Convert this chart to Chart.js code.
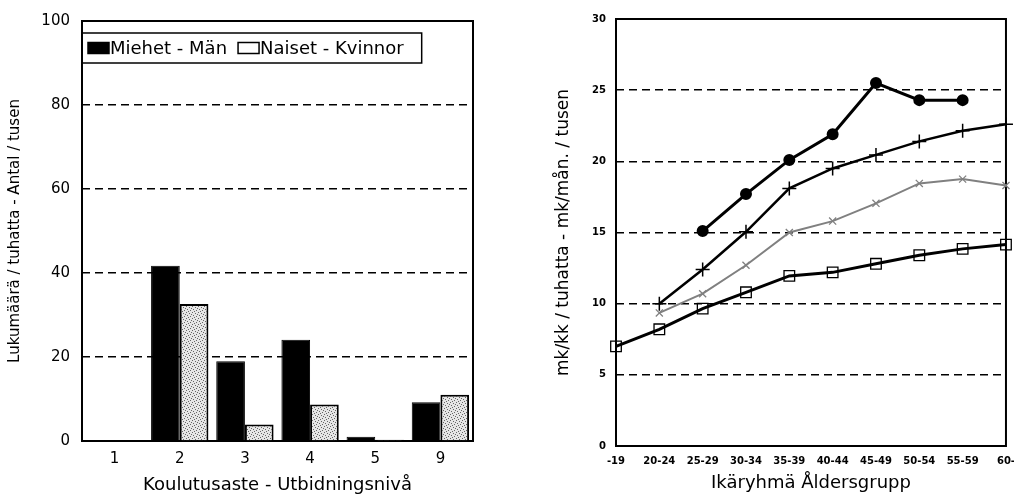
<!DOCTYPE html>
<html>
<head>
<meta charset="utf-8">
<script src="https://cdn.jsdelivr.net/npm/chart.js@4.4.0/dist/chart.umd.min.js"></script>
<style>
html, body { margin: 0; padding: 0; background: #fff; overflow: hidden; width: 1014px; height: 498px; }
#vasen { position: absolute; left: 0; top: 0; width: 490px; height: 498px; }
#oikea { position: absolute; left: 500px; top: 0; width: 524px; height: 498px; }
</style>
</head>
<body>
<div id="vasen"><canvas id="koulutusChart"></canvas></div>
<div id="oikea"><canvas id="ikaChart"></canvas></div>
<script>
// vasen kuva: koulutusaste
var koulutusLabels = ['1', '2', '3', '4', '5', '9'];
var miehetData = [0, 41.7, 19.0, 24.1, 1.0, 9.2];
var naisetData = [0, 32.6, 3.9, 8.7, 0.3, 11.0];

// oikea kuva: ikäryhmät
var ikaLabels = ['-19', '20-24', '25-29', '30-34', '35-39', '40-44', '45-49', '50-54', '55-59', '60-'];
var sarjaPallo = [null, null, 15.1, 17.7, 20.1, 21.9, 25.5, 24.3, 24.3, null];
var sarjaRisti = [null, 10.0, 12.4, 15.05, 18.1, 19.5, 20.45, 21.4, 22.15, 22.6];
var sarjaX = [null, 9.35, 10.7, 12.7, 15.0, 15.8, 17.05, 18.45, 18.75, 18.3];
var sarjaNelio = [7.0, 8.2, 9.65, 10.8, 11.95, 12.2, 12.8, 13.4, 13.85, 14.15];

Chart.defaults.font.family = "'DejaVu Sans', sans-serif";
Chart.defaults.color = '#000';

function pisteKuvio() {
    var c = document.createElement('canvas');
    c.width = 6;
    c.height = 6;
    var g = c.getContext('2d');
    g.fillStyle = '#e6e6e6';
    g.fillRect(0, 0, 6, 6);
    g.fillStyle = '#666';
    [[0, 0], [3, 1], [1, 3], [4, 4], [2, 5], [5, 2]].forEach(function (p) {
        g.fillRect(p[0], p[1], 1, 1);
    });
    return g.createPattern(c, 'repeat');
}

// kehys kuva-alueen ympäri
var kehys = {
    id: 'kehys',
    beforeDatasetsDraw: function (chart) {
        var a = chart.chartArea, ctx = chart.ctx;
        ctx.save();
        ctx.lineWidth = 2;
        ctx.strokeStyle = '#000';
        ctx.strokeRect(a.left, a.top, a.right - a.left, a.bottom - a.top);
        ctx.restore();
    }
};

// selite laatikossa kuvan sisällä
var laatikkoSelite = {
    id: 'laatikkoSelite',
    afterDraw: function (chart) {
        var ctx = chart.ctx, a = chart.chartArea;
        var y = a.top + 12, h = 30;
        var cx = a.left + 6, cy = y + h / 2;
        ctx.save();
        ctx.font = "18px 'DejaVu Sans'";
        ctx.textBaseline = 'middle';
        ctx.lineWidth = 1.5;
        ctx.strokeStyle = '#000';
        chart.data.datasets.forEach(function (ds) {
            ctx.fillStyle = ds.legendFill;
            ctx.fillRect(cx, cy - 5.5, 21, 11);
            ctx.strokeRect(cx, cy - 5.5, 21, 11);
            ctx.fillStyle = '#000';
            ctx.fillText(ds.label, cx + 22, cy + 1);
            cx += 22 + ctx.measureText(ds.label).width + 11;
        });
        ctx.strokeRect(a.left, y, cx - 11 + 18 - a.left, h);
        ctx.restore();
    }
};

function viivaVari(c) {
    var v = c.tick.value;
    return (v === c.scale.min || v === c.scale.max) ? 'rgba(0,0,0,0)' : '#000';
}

var koulutusCtx = document.getElementById('koulutusChart');
var koulutusChart = new Chart(koulutusCtx, {
    type: 'bar',
    data: {
        labels: koulutusLabels,
        datasets: [{
            label: 'Miehet - Män',
            data: miehetData,
            backgroundColor: '#000',
            borderColor: '#000',
            borderWidth: 1,
            legendFill: '#000',
            categoryPercentage: 0.88,
            barPercentage: 1
        }, {
            label: 'Naiset - Kvinnor',
            data: naisetData,
            backgroundColor: pisteKuvio(),
            borderColor: '#000',
            borderWidth: 2,
            legendFill: '#fff',
            categoryPercentage: 0.88,
            barPercentage: 1
        }]
    },
    options: {
        responsive: true,
        maintainAspectRatio: false,
        animation: false,
        layout: { padding: { top: 15, right: 17, left: 0, bottom: 0 } },
        plugins: {
            legend: { display: false },
            tooltip: { enabled: false }
        },
        scales: {
            x: {
                grid: { display: false, drawTicks: false },
                border: { display: false },
                ticks: { font: { size: 15 }, padding: 9 },
                title: { display: true, text: 'Koulutusaste - Utbidningsnivå', font: { size: 18 }, padding: { top: 0, bottom: 2 } },
                afterFit: function (s) { s.height = 57; }
            },
            y: {
                min: 0,
                max: 100,
                ticks: { stepSize: 20, font: { size: 15 }, padding: 12 },
                grid: { color: viivaVari, lineWidth: 1.5, drawTicks: false },
                border: { display: false, dash: [8, 5] },
                title: { display: true, text: 'Lukumäärä / tuhatta - Antal / tusen', font: { size: 15 }, padding: { top: 6, bottom: 0 } },
                afterFit: function (s) { s.width = 82; }
            }
        }
    },
    plugins: [kehys, laatikkoSelite]
});

var ikaCtx = document.getElementById('ikaChart');
var ikaChart = new Chart(ikaCtx, {
    type: 'line',
    data: {
        labels: ikaLabels,
        datasets: [{
            label: 'Sarja 1',
            data: sarjaPallo,
            borderColor: '#000',
            backgroundColor: '#000',
            borderWidth: 3,
            pointStyle: 'circle',
            pointRadius: 4.5,
            pointBackgroundColor: '#000',
            pointBorderColor: '#000',
            clip: false
        }, {
            label: 'Sarja 2',
            data: sarjaRisti,
            borderColor: '#000',
            borderWidth: 2.5,
            pointStyle: 'cross',
            pointRadius: 7,
            pointBorderWidth: 1.5,
            pointBorderColor: '#000',
            clip: false
        }, {
            label: 'Sarja 3',
            data: sarjaX,
            borderColor: '#808080',
            borderWidth: 2,
            pointStyle: 'crossRot',
            pointRadius: 5,
            pointBorderWidth: 1.3,
            pointBorderColor: '#808080',
            clip: false
        }, {
            label: 'Sarja 4',
            data: sarjaNelio,
            borderColor: '#000',
            borderWidth: 3,
            pointStyle: 'rect',
            pointRadius: 7.5,
            pointBackgroundColor: 'rgba(0,0,0,0)',
            pointBorderColor: '#000',
            pointBorderWidth: 1.3,
            clip: false
        }]
    },
    options: {
        responsive: true,
        maintainAspectRatio: false,
        animation: false,
        layout: { padding: { top: 19, right: 18, left: 0, bottom: 0 } },
        plugins: {
            legend: { display: false },
            tooltip: { enabled: false }
        },
        scales: {
            x: {
                offset: false,
                grid: { display: false, drawTicks: false },
                border: { display: false },
                ticks: { autoSkip: false, maxRotation: 0, font: { size: 10, weight: 'bold' }, padding: 9 },
                title: { display: true, text: 'Ikäryhmä Åldersgrupp', font: { size: 18 }, padding: { top: 0, bottom: 4 } },
                afterFit: function (s) { s.height = 52; }
            },
            y: {
                min: 0,
                max: 30,
                ticks: { stepSize: 5, font: { size: 10, weight: 'bold' }, padding: 10 },
                grid: { color: viivaVari, lineWidth: 1.5, drawTicks: false },
                border: { display: false, dash: [8, 5] },
                title: { display: true, text: 'mk/kk / tuhatta - mk/mån. / tusen', font: { size: 17 }, padding: { top: 53, bottom: 0 } },
                afterFit: function (s) { s.width = 116; }
            }
        }
    },
    plugins: [kehys]
});
</script>
</body>
</html>
